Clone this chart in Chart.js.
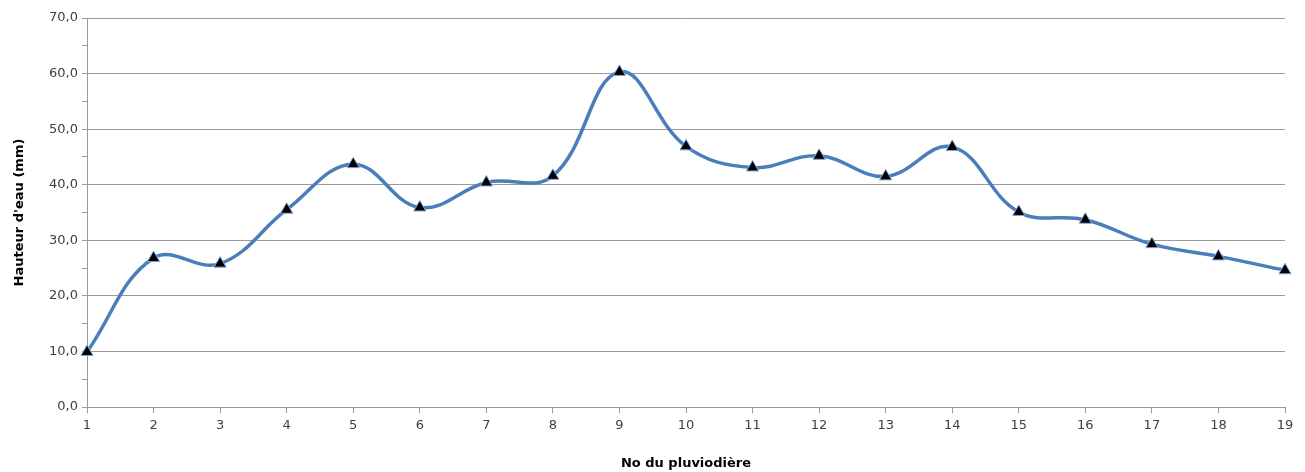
<!DOCTYPE html>
<html lang="fr">
<head>
  <meta charset="UTF-8">
  <title>Hauteur d'eau par pluviodière</title>
  <script src="https://cdn.jsdelivr.net/npm/chart.js"></script>
  <style>
    html, body { margin: 0; padding: 0; background: #fff; }
    #wrap { width: 1305px; height: 472px; }
  </style>
</head>
<body>
<div id="wrap"><canvas id="chartPluie"></canvas></div>

<script>
  // === Données ===
  const pluviodieres = ["1", "2", "3", "4", "5", "6", "7", "8", "9", "10",
                        "11", "12", "13", "14", "15", "16", "17", "18", "19"];
  const hauteurs = [9.9, 26.8, 25.8, 35.5, 43.7, 35.9, 40.4, 41.6, 60.3, 46.9,
                    43.1, 45.2, 41.5, 46.8, 35.1, 33.7, 29.3, 27.1, 24.6];

  const police = "'DejaVu Sans', Verdana, sans-serif";
  const gris = "#9a9a9a";

  new Chart(document.getElementById("chartPluie"), {
    type: "line",
    data: {
      labels: pluviodieres,
      datasets: [{
        label: "Hauteur d'eau",
        data: hauteurs,
        borderColor: "#4a7ebb",
        borderWidth: 3.5,
        tension: 0.4,
        pointStyle: "triangle",
        pointRadius: 7,
        pointBackgroundColor: "#000",
        pointBorderColor: "#7fa6d6",
        pointBorderWidth: 1
      }]
    },
    options: {
      responsive: true,
      maintainAspectRatio: false,
      animation: false,
      layout: { padding: { top: 18, right: 20, left: 8, bottom: 0 } },
      plugins: {
        legend: { display: false },
        tooltip: { enabled: false }
      },
      scales: {
        x: {
          offset: false,
          grid: {
            drawOnChartArea: false,
            color: gris,
            tickLength: 6
          },
          border: { color: gris },
          ticks: { color: "#404040", font: { family: police, size: 13 }, maxRotation: 0, padding: 5 },
          title: {
            display: true, text: "No du pluviodière", color: "#000",
            font: { family: police, size: 13, weight: "bold" }, padding: { top: 8, bottom: 1 }
          },
          afterFit: s => { s.height = 65; }
        },
        y: {
          min: 0,
          max: 70,
          ticks: {
            stepSize: 5,
            color: "#404040",
            font: { family: police, size: 13 },
            padding: 4,
            callback: v => (v % 10 === 0 ? v.toFixed(1).replace(".", ",") : "")
          },
          grid: {
            color: c => (c.tick && c.tick.value % 10 === 0 ? gris : "rgba(0,0,0,0)"),
            tickColor: gris,
            tickLength: 5
          },
          border: { color: gris },
          title: {
            display: true, text: "Hauteur d'eau (mm)", color: "#000",
            font: { family: police, size: 13, weight: "bold" }, padding: { bottom: 4 }
          },
          afterFit: s => { s.width = 79; }
        }
      }
    }
  });
</script>
</body>
</html>
